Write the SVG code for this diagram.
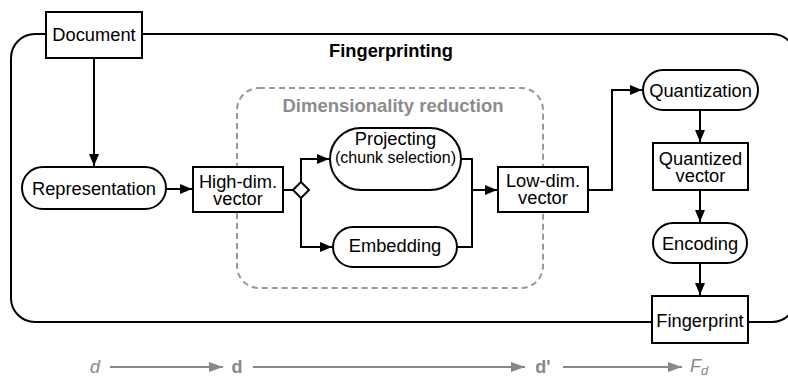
<svg xmlns="http://www.w3.org/2000/svg" width="788" height="377" viewBox="0 0 788 377">
<defs>
<marker id="ah" viewBox="0 0 12 10" refX="12" refY="5" markerWidth="12" markerHeight="10" markerUnits="userSpaceOnUse" orient="auto"><path d="M0,0 L12,5 L0,10 Z" fill="#000"/></marker>
<marker id="ahg" viewBox="0 0 14 10" refX="14" refY="5" markerWidth="14" markerHeight="10" markerUnits="userSpaceOnUse" orient="auto"><path d="M0,0 L14,5 L0,10 Z" fill="#888"/></marker>
</defs>
<style>
text{font-family:"Liberation Sans",Arial,sans-serif;fill:#000;text-anchor:middle}
.n{fill:#fff;stroke:#000;stroke-width:2}
.t{font-size:18.3px}
.s{font-size:16px}
.c{fill:none;stroke:#000;stroke-width:2}
.g{fill:none;stroke:#888;stroke-width:2}
.gt{fill:#888;font-size:18px}
</style>
<g id="fingerprinting-frame">
<rect x="11" y="34" width="785" height="288" rx="24" fill="none" stroke="#000" stroke-width="2"/>
<text x="391" y="57" style="font-weight:bold;font-size:18.3px">Fingerprinting</text>
</g>
<g id="dimensionality-reduction">
<rect x="237" y="88" width="306" height="200" rx="22" fill="none" stroke="#999" stroke-width="2" stroke-dasharray="6 4"/>
<text x="393" y="112" style="font-weight:bold;font-size:18.5px;fill:#8c8c8c">Dimensionality reduction</text>
</g>
<g id="connectors">
<path class="c" d="M94,58 V166" marker-end="url(#ah)"/>
<path class="c" d="M166,189 H192" marker-end="url(#ah)"/>
<path class="c" d="M283,190 H294"/>
<path class="c" d="M301,183 V159 H329" marker-end="url(#ah)"/>
<path class="c" d="M301,198 V247 H332" marker-end="url(#ah)"/>
<path class="c" d="M461,159 H472 V247 H457"/>
<path class="c" d="M472,190 H497" marker-end="url(#ah)"/>
<path class="c" d="M588,190 H612 V90 H642" marker-end="url(#ah)"/>
<path class="c" d="M700,110 V142" marker-end="url(#ah)"/>
<path class="c" d="M700,190 V222" marker-end="url(#ah)"/>
<path class="c" d="M700,263 V295" marker-end="url(#ah)"/>
</g>
<g id="document"><rect class="n" x="46" y="12" width="96" height="46"/><text class="t" x="94" y="41">Document</text></g>
<g id="representation"><rect class="n" x="22" y="167" width="144" height="42" rx="21"/><text class="t" x="94" y="195">Representation</text></g>
<g id="high-dim-vector"><rect class="n" x="193" y="167" width="90" height="45"/><text class="t" x="238" y="188">High-dim.</text><text class="t" x="238" y="205">vector</text></g>
<g id="branch"><path class="n" d="M301,182 L309,190 L301,198 L293,190 Z"/></g>
<g id="projecting"><rect class="n" x="330" y="128" width="131" height="62" rx="31"/><text class="t" x="395.5" y="145">Projecting</text><text class="s" x="395.5" y="163">(chunk selection)</text></g>
<g id="embedding"><rect class="n" x="333" y="227" width="124" height="40" rx="20"/><text class="t" x="395" y="252">Embedding</text></g>
<g id="low-dim-vector"><rect class="n" x="498" y="167" width="90" height="45"/><text class="t" x="543" y="187">Low-dim.</text><text class="t" x="543" y="204">vector</text></g>
<g id="quantization"><rect class="n" x="643" y="70" width="115" height="40" rx="20"/><text class="t" x="700.5" y="97">Quantization</text></g>
<g id="quantized-vector"><rect class="n" x="653" y="143" width="95" height="47"/><text class="t" x="700.5" y="165">Quantized</text><text class="t" x="700.5" y="182">vector</text></g>
<g id="encoding"><rect class="n" x="653" y="223" width="94" height="40" rx="20"/><text class="t" x="700" y="250">Encoding</text></g>
<g id="fingerprint"><rect class="n" x="652" y="296" width="96" height="47"/><text class="t" x="700" y="327">Fingerprint</text></g>
<g id="dimension-axis">
<path class="g" d="M110,367 H223" marker-end="url(#ahg)"/>
<path class="g" d="M253,367 H525" marker-end="url(#ahg)"/>
<path class="g" d="M563,367 H682" marker-end="url(#ahg)"/>
<text class="gt" x="95" y="373" style="font-style:italic">d</text>
<text class="gt" x="237" y="373" style="font-weight:bold">d</text>
<text class="gt" x="543" y="373" style="font-weight:bold">d'</text>
<text class="gt" x="699" y="372" style="font-style:italic">F<tspan dy="3" font-size="13px">d</tspan></text>
</g>
</svg>
